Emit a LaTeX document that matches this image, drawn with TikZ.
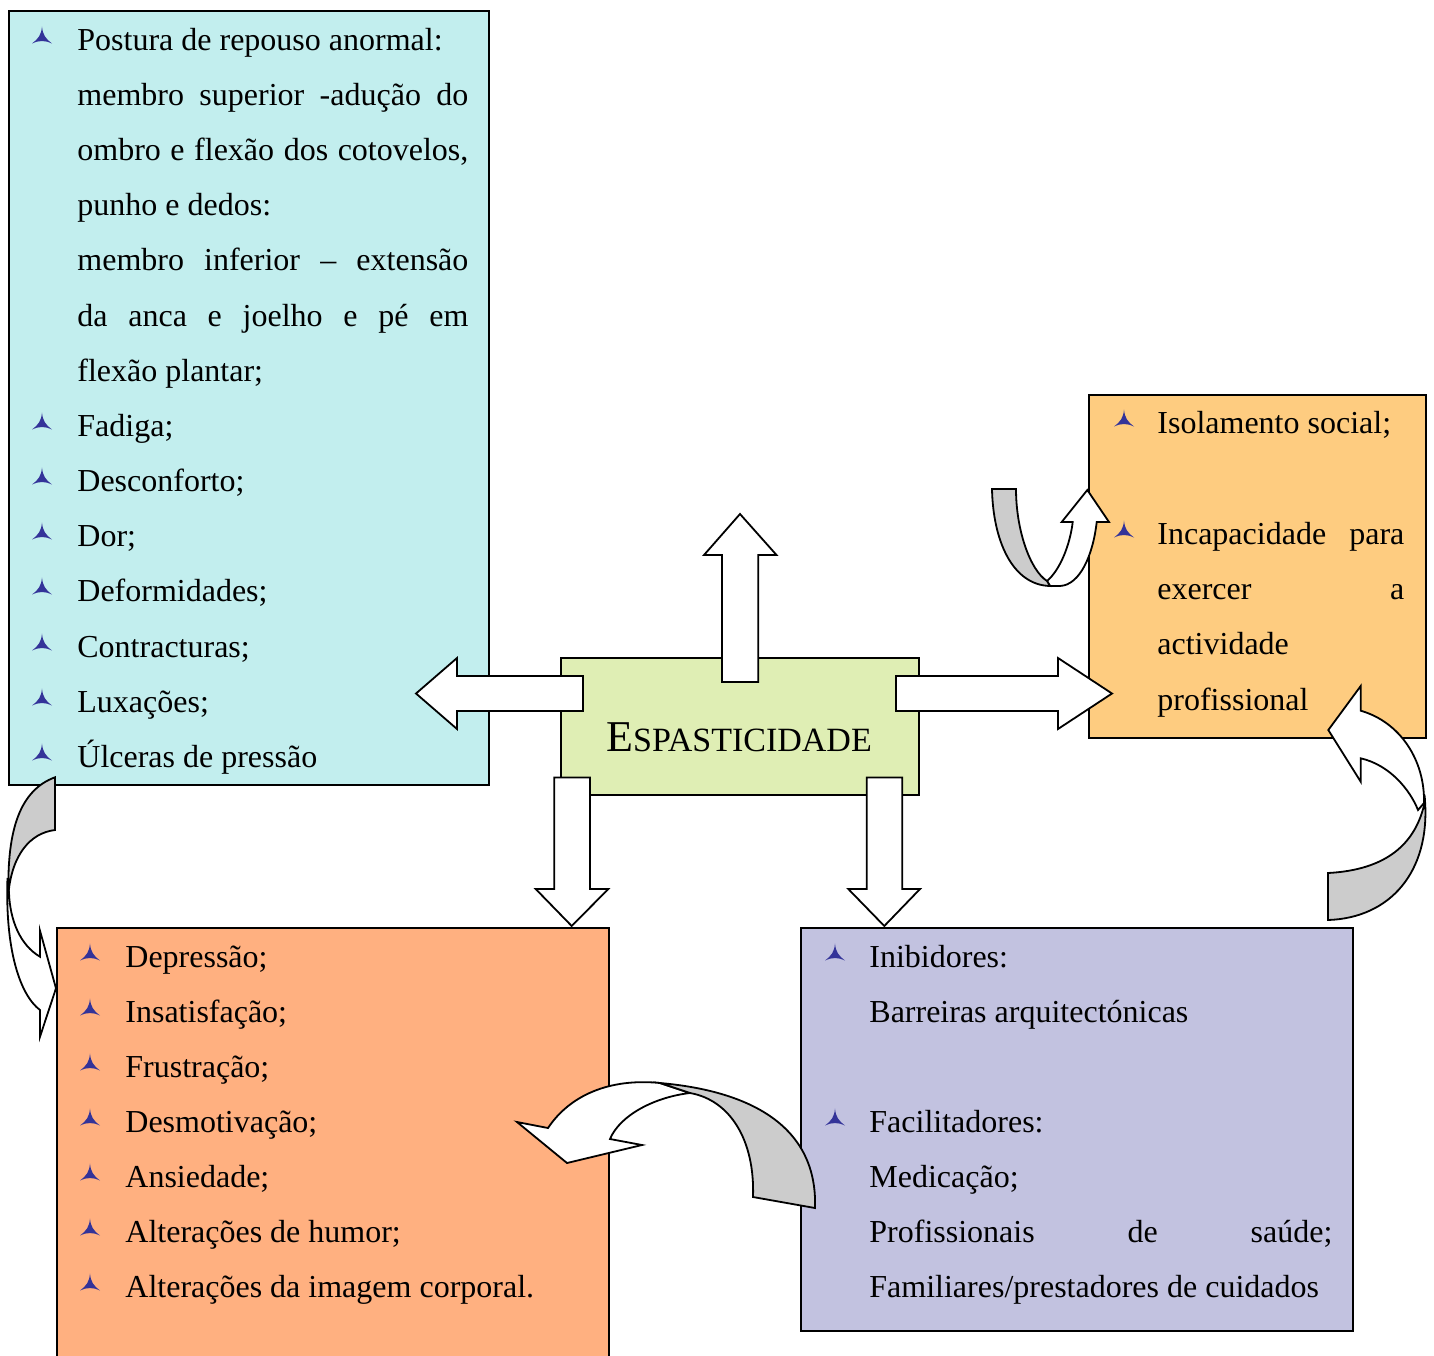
\documentclass[tikz,border=0pt]{standalone}
\usepackage{fontspec}
\setmainfont{Liberation Serif}
\definecolor{cyanC}{HTML}{C2EEEE}
\definecolor{greenC}{HTML}{DFEEB4}
\definecolor{rboxC}{HTML}{FECC80}
\definecolor{oboxC}{HTML}{FFB080}
\definecolor{lboxC}{HTML}{C2C2E0}
\definecolor{grayC}{HTML}{CCCCCC}
\definecolor{bulC}{HTML}{333399}
\newcommand\tribul[2]{\fill[bulC,shift={(#1,#2)}] (0,-23.5) .. controls (0.8,-15) and (3.5,-11.5) .. (10,-6.5) .. controls (4,-9.8) and (-4,-9.8) .. (-10,-6.5) .. controls (-3.5,-11.5) and (-0.8,-15) .. (0,-23.5) -- cycle;}
\tikzset{
  box/.style={draw=black, line width=1pt, anchor=north west, inner sep=0pt},
  txt/.style={anchor=base west, inner sep=0pt, font=\fontsize{16}{19}\selectfont},
  blockarrow/.style={draw=black, fill=white, line width=0.9pt, line join=miter},
  backside/.style={draw=black, fill=grayC, line width=0.9pt},
}
\begin{document}
\begin{tikzpicture}[x=0.5pt,y=-0.5pt]
\useasboundingbox (0,0) rectangle (1434,1355);
\clip (0,0) rectangle (1434,1355);
% boxes
\node[box, fill=cyanC, minimum width=240pt, minimum height=387pt] (cyanbox) at (8,10) {};
\node[box, fill=greenC, minimum width=179pt, minimum height=68.5pt] (center) at (560,657) {};
\node[box, fill=rboxC, minimum width=168.5pt, minimum height=171.5pt] (rbox) at (1088,394) {};
\node[box, fill=oboxC, minimum width=276pt, minimum height=230pt] (obox) at (56,927) {};
\node[box, fill=lboxC, minimum width=276pt, minimum height=201.5pt] (lbox) at (800,927) {};

% centre label
\node[anchor=base, inner sep=0pt] (esp) at (739,751) {\fontsize{22}{26}\selectfont E\fontsize{17}{20}\selectfont SPASTICIDADE};

% cyan box text
\tribul{42}{50}
\node[txt] (c1) at (77,50) {Postura de repouso anormal:};
\node[txt] (c2) at (77,105) {\makebox[195.5pt][s]{membro superior -adução do}};
\node[txt] (c3) at (77,160) {\makebox[195.5pt][s]{ombro e flexão dos cotovelos,}};
\node[txt] (c4) at (77,215) {punho e dedos:};
\node[txt] (c5) at (77,270) {\makebox[195.5pt][s]{membro inferior – extensão}};
\node[txt] (c6) at (77,326) {\makebox[195.5pt][s]{da anca e joelho e pé em}};
\node[txt] (c7) at (77,381) {flexão plantar;};
\tribul{42}{436}
\node[txt] (c8) at (77,436) {Fadiga;};
\tribul{42}{491}
\node[txt] (c9) at (77,491) {Desconforto;};
\tribul{42}{546}
\node[txt] (c10) at (77,546) {Dor;};
\tribul{42}{601}
\node[txt] (c11) at (77,601) {Deformidades;};
\tribul{42}{657}
\node[txt] (c12) at (77,657) {Contracturas;};
\tribul{42}{712}
\node[txt] (c13) at (77,712) {Luxações;};
\tribul{42}{767}
\node[txt] (c14) at (77,767) {Úlceras de pressão};

% right box text
\tribul{1124}{433}
\node[txt] (r1) at (1157,433) {Isolamento social;};
\tribul{1124}{544}
\node[txt] (r2) at (1157,544) {\makebox[123.5pt][s]{Incapacidade para}};
\node[txt] (r3) at (1157,599) {\makebox[123.5pt][s]{exercer a}};
\node[txt] (r4) at (1157,654) {actividade};
\node[txt] (r5) at (1157,710) {profissional};

% bottom-left box text
\tribul{90}{967}
\node[txt] (o1) at (125,967) {Depressão;};
\tribul{90}{1022}
\node[txt] (o2) at (125,1022) {Insatisfação;};
\tribul{90}{1077}
\node[txt] (o3) at (125,1077) {Frustração;};
\tribul{90}{1132}
\node[txt] (o4) at (125,1132) {Desmotivação;};
\tribul{90}{1187}
\node[txt] (o5) at (125,1187) {Ansiedade;};
\tribul{90}{1242}
\node[txt] (o6) at (125,1242) {Alterações de humor;};
\tribul{90}{1297}
\node[txt] (o7) at (125,1297) {Alterações da imagem corporal.};

% lavender box text
\tribul{835}{967}
\node[txt] (l1) at (869,967) {Inibidores:};
\node[txt] (l2) at (869,1022) {Barreiras arquitectónicas};
\tribul{835}{1132}
\node[txt] (l3) at (869,1132) {Facilitadores:};
\node[txt] (l4) at (869,1187) {Medicação;};
\node[txt] (l5) at (869,1242) {\makebox[231.5pt][s]{Profissionais de saúde;}};
\node[txt] (l6) at (869,1297) {Familiares/prestadores de cuidados};

% straight block arrows
\draw[blockarrow] (722,682) -- (722,555) -- (704,555) -- (740,514) -- (776.5,555) -- (758.3,555) -- (758.3,682) -- cycle;
\draw[blockarrow] (583,676) -- (457,676) -- (457,658) -- (416,693.5) -- (457,729) -- (457,711) -- (583,711) -- cycle;
\draw[blockarrow] (896,676) -- (1058,676) -- (1058,658) -- (1112,693.5) -- (1058,729) -- (1058,711) -- (896,711) -- cycle;
\draw[blockarrow] (554.3,777.5) -- (590,777.5) -- (590,889) -- (608.3,889) -- (571.7,926) -- (535.7,889) -- (554.3,889) -- cycle;
\draw[blockarrow] (866.7,777.5) -- (902.3,777.5) -- (902.3,889) -- (920,889) -- (884.3,926) -- (848.3,889) -- (866.7,889) -- cycle;

% curved arrow: top right (U-turn)
\draw[blockarrow] (1047,581) .. controls (1060,570) and (1070,545) .. (1072.7,522) -- (1061.7,522) -- (1087.3,490) -- (1109,522) -- (1096.7,522) .. controls (1093,555) and (1080,585) .. (1060,586) -- (1050,586) -- cycle;
\draw[backside] (992,489) -- (1016,489) .. controls (1016,530) and (1030,570) .. (1047,581) -- (1050,586) .. controls (1012,585) and (993,540) .. (992,489) -- cycle;

% curved arrow: right (from lavender box up to right box)
\draw[blockarrow] (1360.7,710.7) .. controls (1400,722) and (1425,760) .. (1424,803) -- (1418,810) .. controls (1410,790) and (1390,765) .. (1360.7,758.3) -- (1360.7,781.7) -- (1328.3,730) -- (1360.7,686) -- cycle;
\draw[backside] (1425,801) .. controls (1430,872) and (1390,918) .. (1328,920) -- (1328,873) .. controls (1385,870) and (1416,845) .. (1425,801) -- cycle;

% curved arrow: left (cyan box to orange box)
\draw[blockarrow] (7.5,878) .. controls (5,950) and (20,995) .. (40,1010) -- (40,1036.7) -- (56,988.3) -- (40,930.7) -- (40,956.7) .. controls (20,945) and (10,920) .. (9,893) -- cycle;
\draw[backside] (55,777.3) .. controls (20,790) and (7,830) .. (8.5,893) .. controls (12,855) and (30,833) .. (55,830) -- cycle;

% curved arrow: bottom middle (lavender box to orange box)
\draw[blockarrow] (690,1093) .. controls (655,1097) and (620,1115) .. (610,1139) -- (642,1145) -- (567,1163) -- (517,1122) -- (548,1128) .. controls (570,1095) and (610,1078) .. (660,1083) -- cycle;
\draw[backside] (660,1083) .. controls (740,1090) and (818,1120) .. (815,1208) -- (753,1197) .. controls (755,1140) and (730,1100) .. (690,1093) -- cycle;
\end{tikzpicture}
\end{document}
